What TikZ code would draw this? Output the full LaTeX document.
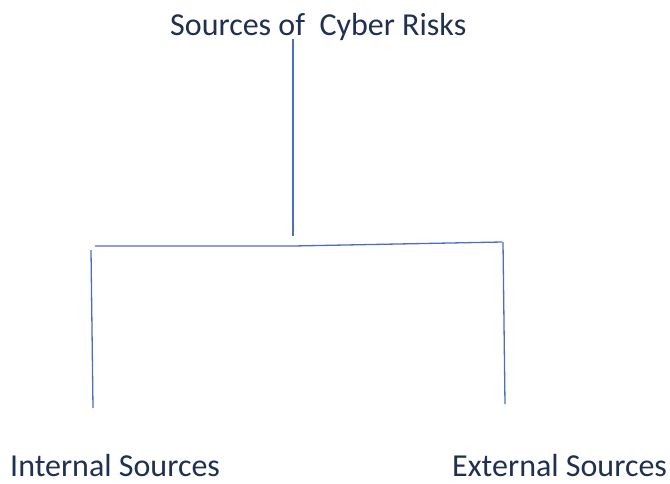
\documentclass[tikz,border=0pt]{standalone}
\usepackage{fontspec}
\setmainfont{Carlito}
\usetikzlibrary{positioning}
\definecolor{txtnavy}{HTML}{203050}
\definecolor{lineblue}{HTML}{4A6FC0}
\tikzset{
  caption/.style={inner sep=0pt, anchor=base west, text=txtnavy, font=\fontsize{32}{38}\selectfont},
  branch/.style={draw=lineblue, line width=1.3pt}
}
\begin{document}
\begin{tikzpicture}[x=1pt,y=-1pt,line cap=butt,line join=round]
\useasboundingbox (0,0) rectangle (670,483);
% labels
\node[caption] (risks) at (170,35) {Sources of\ \ Cyber Risks};
\node[caption,text depth=0pt] (internal) at (10,476) {Internal Sources};
\node[caption,text depth=0pt] (external) at (452,476) {External Sources};
% junction points
\coordinate (stemtop) at (293,39);
\coordinate (stem) at (293,236);
\coordinate (barleft) at (95,246);
\coordinate (barmid) at (293,246);
\coordinate (barright) at (502,242);
\coordinate (inttop) at (91,250);
\coordinate (intend) at (93,408);
\coordinate (exttop) at (503,242);
\coordinate (extend) at (505,404);
% tree
\draw[branch] (stemtop) -- (stem);
\draw[branch] (barleft) -- (barmid) -- (barright);
\draw[branch] (inttop) -- (intend);
\draw[branch] (exttop) -- (extend);
\end{tikzpicture}
\end{document}
